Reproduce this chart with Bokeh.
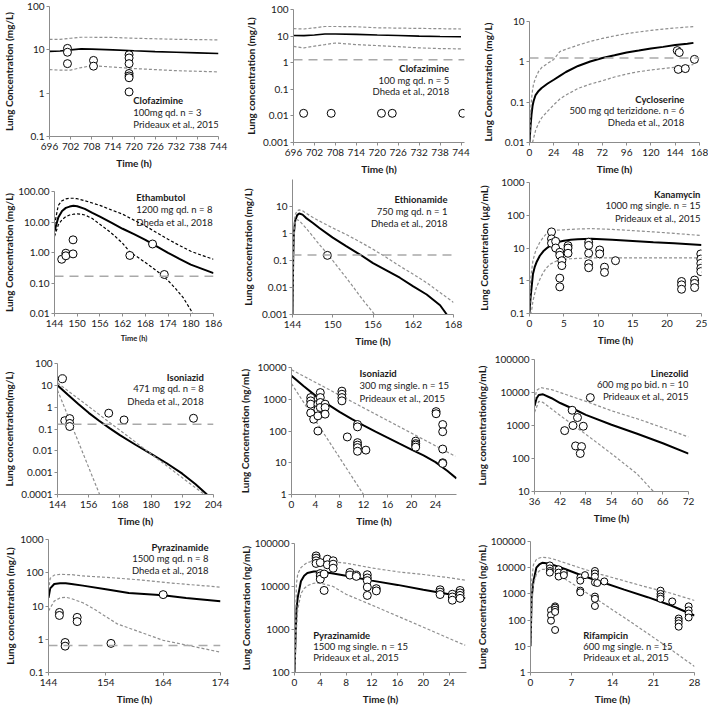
from bokeh.plotting import figure
from bokeh.layouts import row, column
from bokeh.models import FixedTicker, Label, Span, Range1d
from bokeh.embed import file_html
from bokeh.resources import INLINE

FONT = "Lato"

# ---------------- data ----------------
# Panel 1: Clofazimine, Prideaux 2015
clo_p_t = [696, 699, 702, 705, 708, 714, 720, 726, 732, 738, 744]
clo_p_med = [9.2, 9.4, 10.0, 10.5, 10.4, 10.0, 9.5, 9.1, 8.8, 8.5, 8.2]
clo_p_hi = [17.5, 17.5, 18.5, 19.5, 19.5, 19.3, 18.5, 18.0, 17.5, 17.2, 17.0]
clo_p_lo = [3.5, 3.4, 3.4, 3.9, 4.3, 4.0, 3.7, 3.5, 3.3, 3.2, 3.1]
clo_p_obs_t = [701.1, 701.1, 701.1, 708.5, 708.5, 718.6, 718.6, 718.6, 718.6, 718.6, 718.6, 718.6]
clo_p_obs_c = [10.8, 8.8, 4.8, 5.7, 4.2, 7.7, 6.5, 4.8, 2.85, 2.5, 2.27, 1.07]

# Panel 2: Clofazimine, Dheda 2018
clo_d_t = [696, 699, 702, 705, 708, 714, 720, 726, 732, 738, 744]
clo_d_med = [10.5, 10.4, 11.0, 12.0, 12.0, 11.6, 11.0, 10.5, 10.0, 9.7, 9.5]
clo_d_hi = [19.0, 18.5, 20.5, 23.0, 23.0, 22.5, 20.5, 20.0, 19.5, 19.0, 18.5]
clo_d_lo = [4.1, 3.6, 4.2, 4.8, 5.5, 4.8, 4.4, 4.0, 3.6, 3.4, 3.3]
clo_d_obs_t = [698.9, 706.8, 721.2, 724.3, 744.5]
clo_d_obs_c = [0.0125, 0.0125, 0.0125, 0.0125, 0.0125]
clo_d_lloq = 1.3

# Panel 3: Cycloserine, Dheda 2018
cyc_t = [0, 1, 2, 3, 4, 6, 9, 12, 18, 24, 30, 36, 48, 60, 72, 84, 96, 108, 120, 132, 144, 156, 162]
cyc_med = [0.01, 0.025, 0.05, 0.08, 0.105, 0.15, 0.19, 0.225, 0.29, 0.36, 0.45, 0.56, 0.79, 1.02, 1.25,
           1.45, 1.7, 1.9, 2.15, 2.35, 2.6, 2.8, 2.95]
cyc_hi = [0.01, 0.05, 0.12, 0.2, 0.28, 0.4, 0.58, 0.72, 0.92, 1.15, 1.8, 2.05, 2.6, 3.2, 3.8,
          4.4, 5.0, 5.5, 6.0, 6.5, 6.9, 7.3, 7.5]
cyc_lo_t = [3, 6, 9, 12, 18, 24, 30, 36, 48, 60, 72, 84, 96, 108, 120, 132, 144, 156, 162]
cyc_lo = [0.01, 0.02, 0.03, 0.041, 0.06, 0.086, 0.12, 0.15, 0.22, 0.28, 0.34, 0.42, 0.5, 0.57, 0.63,
          0.68, 0.73, 0.8, 0.86]
cyc_obs_t = [146, 148, 147, 154, 163]
cyc_obs_c = [1.9, 1.7, 0.65, 0.68, 1.15]
cyc_lloq = 1.25

# Panel 4: Ethambutol, Dheda 2018
etb_t = [144, 145, 146, 147, 148, 149, 150, 152, 154, 156, 159, 162, 165, 168, 171, 174, 177, 180, 183, 186]
etb_med = [5, 14, 23, 29, 32, 34, 33, 27, 20, 15, 9.5, 6.0, 4.0, 2.6, 1.6, 0.98, 0.62, 0.4, 0.29, 0.21]
etb_hi = [8, 35, 50, 57, 60, 60, 58, 50, 42, 35, 25, 18, 11.5, 7.4, 4.5, 2.7, 1.7, 1.1, 0.8, 0.6]
etb_lo_t = [144, 145, 146, 147, 148, 149, 150, 151, 152, 154, 156, 158, 160, 162, 164, 166, 168, 170,
            172, 174, 176, 178, 180, 180.5]
etb_lo = [3.4, 8, 12, 15, 17, 18, 18.5, 18, 17, 13, 8.4, 5.5, 3.4, 2.0, 1.0, 0.7, 0.47, 0.31, 0.2, 0.12,
          0.065, 0.033, 0.013, 0.01]
etb_obs_t = [145.9, 147, 147, 148.9, 148.9, 163.9, 169.9, 173]
etb_obs_c = [0.6, 0.95, 0.78, 2.6, 0.9, 0.8, 1.9, 0.19]
etb_lloq = 0.165

# Panel 5: Ethionamide, Dheda 2018
eth_t = [144, 144.1, 144.2, 144.4, 144.7, 145, 145.5, 146, 147, 148, 150, 152, 154, 156, 158, 160, 162, 164, 166, 167]
eth_med = [0.001, 0.1, 1.0, 3.0, 4.8, 5.5, 5.0, 3.8, 2.5, 1.6, 0.7, 0.34, 0.17, 0.08, 0.043, 0.023, 0.011,
           0.0055, 0.0022, 0.001]
eth_hi_t = [144, 144.1, 144.2, 144.4, 144.7, 145, 145.5, 146, 147, 148, 150, 152, 154, 156, 158, 160, 162, 164, 166, 168]
eth_hi = [0.001, 0.3, 2.0, 5.0, 7.0, 7.5, 7.0, 5.7, 4.0, 2.9, 1.6, 0.92, 0.5, 0.26, 0.13, 0.062, 0.031,
          0.015, 0.0065, 0.0028]
eth_lo_t = [144, 144.1, 144.2, 144.4, 144.6, 145, 146, 147, 148, 149, 150, 151, 152, 153, 154, 155, 156, 156.2]
eth_lo = [0.001, 0.05, 0.5, 2.5, 3.3, 3.0, 1.6, 0.8, 0.39, 0.2, 0.1, 0.048, 0.023, 0.011, 0.005, 0.0024,
          0.0012, 0.001]
eth_obs_t = [149.2]
eth_obs_c = [0.155]
eth_lloq = 0.16

# Panel 6: Kanamycin, Prideaux 2015
kan_t = [0, 0.15, 0.3, 0.5, 0.75, 1, 1.5, 2, 2.5, 3, 4, 5, 6, 7, 9, 12, 15, 18, 21, 25]
kan_med = [0.1, 0.3, 0.62, 1.6, 2.6, 3.6, 5.8, 7.9, 9.8, 11.8, 15, 16.7, 17.8, 18.5, 19, 18, 16.5, 15, 14, 12.4]
kan_hi = [0.1, 1.0, 2.0, 4.1, 6.5, 9.3, 15, 21, 28, 33, 35, 36, 37, 38, 39, 37, 34, 31, 28, 24]
kan_lo = [0.1, 0.1, 0.12, 0.24, 0.4, 0.62, 1.1, 1.8, 2.5, 3.2, 4.1, 4.5, 4.7, 4.8, 5.0, 5.0, 5.0, 5.0, 5.0, 5.0]
kan_obs_t = [3.2, 3.2, 3.2, 3.8, 3.8, 4.4, 4.4, 4.4, 4.4, 4.7, 4.7, 5.6, 5.6, 5.6,
             8.6, 8.6, 8.6, 8.6, 8.6, 10.2, 10.2, 10.9, 10.9, 12.5,
             22.1, 22.1, 22.1, 24.0, 24.0, 24.0, 24.9, 24.9, 24.9, 24.9, 24.9]
kan_obs_c = [31, 19, 14, 16, 10, 7.4, 6.0, 1.2, 0.65, 4.1, 2.9, 11.8, 10, 6.9,
             15, 12, 6.9, 3.3, 2.5, 8.7, 6.6, 2.6, 1.8, 4.1,
             0.95, 0.75, 0.55, 1.05, 0.83, 0.62, 6.6, 4.6, 3.4, 2.4, 1.9]

# Panel 7: Isoniazid, Dheda 2018
inh_d_t = [144, 148, 152, 156, 160, 164, 168, 174, 180, 186, 192, 197, 201.5]
inh_d_med = [10, 3.7, 1.4, 0.55, 0.24, 0.11, 0.052, 0.019, 0.0072, 0.0027, 0.0009, 0.0003, 0.0001]
inh_d_hi_t = [144, 200.5]
inh_d_hi = [13, 0.0001]
inh_d_lo_t = [144, 160.2]
inh_d_lo = [6, 0.0001]
inh_d_obs_t = [145.9, 146.8, 148.7, 148.7, 148.7, 163.7, 169.6, 196.3]
inh_d_obs_c = [20, 0.24, 0.3, 0.18, 0.13, 0.53, 0.26, 0.31]
inh_d_lloq = 0.165

# Panel 8: Isoniazid, Prideaux 2015
inh_p_t = [0, 2, 4, 6, 8, 10, 12, 14, 16, 18, 20, 22, 24, 26, 27.5]
inh_p_med = [5500, 2600, 1300, 700, 400, 240, 150, 95, 62, 40, 26, 17, 10.5, 5.5, 3.2]
inh_p_hi_t = [0, 27.3]
inh_p_hi = [8500, 16]
inh_p_lo_t = [0, 12]
inh_p_lo = [3100, 1]
inh_p_obs_t = [3.2, 3.2, 3.2, 3.2, 3.7, 4.4, 4.4, 4.4, 4.4, 4.8, 4.8, 4.8, 4.8, 5.6, 5.6, 5.6,
               8.4, 8.4, 8.4, 8.4, 9.3, 11, 11, 11, 11, 11, 11, 12.4,
               20.7, 20.7, 20.7, 20.7, 24.1, 24.1, 25.2, 25.2, 25.2, 25.2, 25.2]
inh_p_obs_c = [1130, 890, 700, 370, 235, 700, 480, 300, 100, 1620, 1130, 790, 550, 700, 550, 340,
               1800, 1440, 1130, 890, 65, 160, 135, 43, 36, 30, 23, 25,
               48, 40, 36, 31, 408, 350, 160, 95, 27, 10, 9.5]

# Panel 9: Linezolid, Prideaux 2015
lzd_t = [36, 36.5, 37, 38, 40, 42, 46, 48, 54, 60, 66, 72]
lzd_med = [3900, 6700, 8400, 8800, 6700, 4800, 2800, 2100, 1050, 560, 290, 140]
lzd_hi_t = [36, 36.5, 37.5, 40, 48, 54, 60, 66, 72]
lzd_hi = [6000, 11700, 14000, 12200, 5400, 2800, 1600, 860, 450]
lzd_lo_t = [36, 36.3, 37, 38, 42, 48, 54, 60, 63.8]
lzd_lo = [2500, 3100, 5400, 5000, 2000, 540, 140, 34, 10]
lzd_obs_t = [43.05, 44.8, 45.0, 46.05, 45.6, 47.0, 46.7, 47.4, 49.05]
lzd_obs_c = [700, 2900, 1000, 1740, 240, 230, 142, 950, 7000]

# Panel 10: Pyrazinamide, Dheda 2018
pza_d_t = [144, 144.3, 145, 146, 147, 148, 150, 154, 158, 164, 168, 174]
pza_d_med = [17.5, 34, 46, 48, 48, 46, 41, 32, 24.5, 21, 17.5, 14]
pza_d_hi_t = [144, 144.3, 145, 146, 148, 150, 154, 160, 166, 174]
pza_d_hi = [30, 68, 85, 89, 88, 80, 73, 61, 48, 37]
pza_d_lo_t = [144, 145, 146, 147, 148, 150, 152, 154, 156, 160, 164, 168, 174]
pza_d_lo = [7.1, 14, 17.5, 18.4, 16.7, 12.5, 8, 4.8, 2.9, 1.64, 0.93, 0.67, 0.41]
pza_d_obs_t = [145.9, 145.9, 146.9, 146.9, 149, 149, 154.9, 164]
pza_d_obs_c = [6.4, 5.2, 0.8, 0.62, 4.55, 3.4, 0.75, 22]
pza_d_lloq = 0.65

# Panel 11: Pyrazinamide, Prideaux 2015
pza_p_t = [0, 0.3, 0.5, 1, 1.5, 2, 3, 4, 6, 8, 12, 16, 20, 24, 26.5]
pza_p_med = [100, 2900, 5500, 13200, 17800, 20500, 22300, 22300, 20100, 17800, 13700, 10900, 8400, 6600, 5300]
pza_p_hi = [100, 11500, 19500, 27500, 32000, 36000, 39500, 39500, 37500, 35000, 27000, 22000, 19000, 16000, 14000]
pza_p_lo = [100, 1000, 2900, 6800, 9000, 10500, 11900, 12000, 10000, 6600, 3700, 2050, 1130, 620, 430]
pza_p_obs_t = [3.35, 3.35, 3.35, 3.35, 4.0, 4.0, 4.0, 4.0, 4.6, 4.6, 5.1, 5.1, 6.0, 6.0, 6.0,
               8.6, 8.6, 9.6, 9.6, 11.3, 11.3, 11.3, 11.3, 11.3, 12.7, 12.7,
               22.6, 22.6, 22.6, 24.5, 24.5, 24.5, 25.7, 25.7, 25.7, 25.7]
pza_p_obs_c = [51500, 45600, 39600, 34400, 36000, 20000, 17600, 14800, 19500, 8100, 43200, 32000, 39600, 33000, 26600,
               21200, 18400, 18400, 17200, 18800, 15800, 13700, 9700, 6200, 8900, 7900,
               8400, 7400, 6500, 6600, 5700, 4800, 8100, 7100, 6200, 5300]

# Panel 12: Rifampicin, Prideaux 2015
rif_t = [0, 0.2, 0.5, 1, 1.5, 2, 3, 4, 6, 9, 12, 16, 20, 24, 28]
rif_med = [10, 750, 3000, 10000, 13300, 15400, 14600, 12500, 8700, 4800, 2900, 1450, 750, 360, 150]
rif_hi = [10, 3000, 13000, 20600, 23500, 25000, 24000, 21000, 15000, 9000, 5600, 3150, 1770, 1060, 560]
rif_lo = [10, 300, 2360, 5600, 7500, 8700, 8700, 7000, 3600, 1330, 490, 125, 31, 7.5, 1.7]
rif_obs_t = [3.3, 3.3, 3.3, 3.3, 3.5, 3.5, 3.5, 4.2, 4.2, 4.2, 4.2, 4.2, 4.8, 4.8, 4.8, 5.7, 5.7,
             8.5, 8.5, 8.5, 8.5, 9.3, 11, 11, 11, 11, 11, 11, 11, 11.4, 12.6,
             22.2, 22.2, 22.2, 22.2, 24.2, 25.3, 25.3, 25.3, 25.3, 27, 27, 27, 27]
rif_obs_c = [12200, 9400, 7500, 6500, 237, 154, 95, 335, 300, 250, 205, 42, 8700, 6500, 4600, 6500, 5200,
             4200, 3200, 1330, 1150, 5200, 7500, 5950, 4600, 2750, 790, 650, 345, 2600, 2990,
             1330, 1000, 795, 650, 515, 115, 94, 75, 56, 335, 237, 178, 126]

# ---------------- styling helpers ----------------
AXIS_COLOR = "#8c8c8c"
PCT_COLOR = "#8f8f8f"
LLOQ_COLOR = "#a9a9a9"
TEXT_COLOR = "#1a1a1a"


def make_panel(w, h, borders, xr, yr, xticks, yticks, ylabels, ylab, ylab_standoff, xlab_size="10px"):
    p = figure(width=w, height=h, x_range=Range1d(*xr), y_range=Range1d(*yr), y_axis_type="log",
               output_backend="svg", toolbar_location=None, title=None,
               min_border_left=borders[0], min_border_top=borders[1],
               min_border_right=borders[2], min_border_bottom=borders[3])
    if "frame_align" in p.properties():
        p.frame_align = False
    p.outline_line_color = None
    p.xgrid.visible = False
    p.ygrid.visible = False
    p.background_fill_color = "white"
    p.border_fill_color = "white"
    p.xaxis.ticker = FixedTicker(ticks=xticks)
    p.yaxis.ticker = FixedTicker(ticks=yticks)
    p.yaxis.major_label_overrides = {t: l for t, l in zip(yticks, ylabels)}
    for ax in (p.xaxis[0], p.yaxis[0]):
        ax.axis_line_color = AXIS_COLOR
        ax.major_tick_line_color = AXIS_COLOR
        ax.minor_tick_line_color = None
        ax.major_tick_out = 3
        ax.major_tick_in = 0
        ax.major_label_standoff = 2
        ax.major_label_text_font = FONT
        ax.major_label_text_font_size = "10px"
        ax.major_label_text_color = TEXT_COLOR
        ax.axis_label_text_font = FONT
        ax.axis_label_text_font_style = "bold"
        ax.axis_label_text_color = TEXT_COLOR
    p.xaxis.major_label_standoff = 3
    p.xaxis.axis_label_standoff = 4
    p.yaxis.axis_label_standoff = ylab_standoff
    p.yaxis.axis_label = ylab
    p.yaxis.axis_label_text_font_size = "10px"
    p.xaxis.axis_label = "Time (h)"
    p.xaxis.axis_label_text_font_size = xlab_size
    return p


def med(p, t, c, width=2.0):
    p.line(t, c, line_color="black", line_width=width)


def pct(p, t, c, color=PCT_COLOR):
    p.line(t, c, line_color=color, line_width=1.2, line_dash="3 2")


def obs(p, t, c, size=8):
    p.scatter(t, c, marker="circle", size=size, fill_color="white", line_color="black", line_width=1)


def lloq(p, v):
    p.add_layout(Span(location=v, dimension="width", line_color=LLOQ_COLOR, line_width=1.5, line_dash="9 6"))


def note(p, x, ys, lines, align):
    for i, (y, txt) in enumerate(zip(ys, lines)):
        p.add_layout(Label(x=x, y=y, text=txt, text_align=align, text_baseline="middle",
                           text_font=FONT, text_font_size="9.5px", text_color=TEXT_COLOR,
                           text_font_style="bold" if i == 0 else "normal"))


CW = [236, 236, 236]
RH = [177, 177, 177, 176]
t696 = list(range(696, 745, 6))

# Panel 1
p1 = make_panel(CW[0], RH[0], (47, 6, 18, 41), (696, 744), (0.1, 100), t696, [0.1, 1, 10, 100],
                ["0.1", "1", "10", "100"], "Lung Concentration (mg/L)", 9)
med(p1, clo_p_t, clo_p_med, 1.6)
pct(p1, clo_p_t, clo_p_hi)
pct(p1, clo_p_t, clo_p_lo)
obs(p1, clo_p_obs_t, clo_p_obs_c)
note(p1, 719.8, [0.69, 0.35, 0.19], ["Clofazimine", "100mg qd. n = 3", "Prideaux et al., 2015"], "left")

# Panel 2
p2 = make_panel(CW[1], RH[0], (57, 9, 8, 31), (696, 745), (0.001, 100), t696,
                [0.001, 0.01, 0.1, 1, 10, 100], ["0.001", "0.01", "0.1", "1", "10", "100"],
                "Lung concentration (mg/L)", 3)
lloq(p2, clo_d_lloq)
med(p2, clo_d_t, clo_d_med, 1.6)
pct(p2, clo_d_t, clo_d_hi)
pct(p2, clo_d_t, clo_d_lo)
obs(p2, clo_d_obs_t, clo_d_obs_c)
note(p2, 740.6, [0.59, 0.217, 0.086], ["Clofazimine", "100 mg qd. n = 5", "Dheda et al., 2018"], "right")

# Panel 3
p3 = make_panel(CW[2], RH[0], (57, 21, 9, 31), (0, 168), (0.01, 10), list(range(0, 169, 24)),
                [0.01, 0.1, 1, 10], ["0.01", "0.1", "1", "10"], "Lung Concentration (mg/L)", 8)
lloq(p3, cyc_lloq)
med(p3, cyc_t, cyc_med)
pct(p3, cyc_t, cyc_hi)
pct(p3, cyc_lo_t, cyc_lo)
obs(p3, cyc_obs_t, cyc_obs_c)
note(p3, 153.0, [0.114, 0.062, 0.032], ["Cycloserine", "500 mg qd terizidone. n = 6", "Dheda et al., 2018"], "right")

# Panel 4
p4 = make_panel(CW[0], RH[1], (48, 14, 23, 41), (144, 186), (0.01, 100), list(range(144, 187, 6)),
                [0.01, 0.1, 1, 10, 100], ["0.01", "0.10", "1.00", "10.00", "100.00"],
                "Lung Concentration (mg/L)", 0, xlab_size="7.5px")
lloq(p4, etb_lloq)
med(p4, etb_t, etb_med)
pct(p4, etb_t, etb_hi, color="black")
pct(p4, etb_lo_t, etb_lo, color="black")
obs(p4, etb_obs_t, etb_obs_c)
note(p4, 165.6, [66, 25.5, 9.8], ["Ethambutol", "1200 mg qd. n = 8", "Dheda et al., 2018"], "left")

# Panel 5
p5 = make_panel(CW[1], RH[1], (56, 2, 19, 40), (144, 168), (0.001, 100), list(range(144, 169, 6)),
                [0.001, 0.01, 0.1, 1, 10], ["0.001", "0.01", "0.1", "1", "10"],
                "Lung concentration (mg/L)", 5)
lloq(p5, eth_lloq)
med(p5, eth_t, eth_med)
pct(p5, eth_hi_t, eth_hi)
pct(p5, eth_lo_t, eth_lo)
obs(p5, eth_obs_t, eth_obs_c)
note(p5, 167.1, [18, 6.5, 2.35], ["Ethionamide", "750 mg qd. n = 1", "Dheda et al., 2018"], "right")

# Panel 6
p6 = make_panel(CW[2], RH[1], (57, 5, 7, 41), (0, 25), (0.1, 1000), list(range(0, 26, 5)),
                [0.1, 1, 10, 100, 1000], ["0.1", "1", "10", "100", "1000"], "Lung Concentration (µg/mL)", 8)
med(p6, kan_t, kan_med)
pct(p6, kan_t, kan_hi)
pct(p6, kan_t, kan_lo)
obs(p6, kan_obs_t, kan_obs_c)
note(p6, 24.85, [430, 198, 79], ["Kanamycin", "1000 mg single. n = 15", "Prideaux et al., 2015"], "right")

# Panel 7
p7 = make_panel(CW[0], RH[2], (51, 9, 23, 37), (144, 204), (0.0001, 100), list(range(144, 205, 12)),
                [0.0001, 0.001, 0.01, 0.1, 1, 10, 100],
                ["0.0001", "0.001", "0.01", "0.1", "1", "10", "100"], "Lung concentration(mg/L)", 3)
lloq(p7, inh_d_lloq)
med(p7, inh_d_t, inh_d_med)
pct(p7, inh_d_hi_t, inh_d_hi)
pct(p7, inh_d_lo_t, inh_d_lo)
obs(p7, inh_d_obs_t, inh_d_obs_c)
note(p7, 200.3, [22.8, 7.1, 1.8], ["Isoniazid", "471 mg qd. n = 8", "Dheda et al., 2018"], "right")

# Panel 8
p8 = make_panel(CW[1], RH[2], (53, 13, 16, 37), (0, 27.5), (1, 10000), list(range(0, 25, 4)),
                [1, 10, 100, 1000, 10000], ["1", "10", "100", "1000", "10000"], "Lung Concentration (ng/mL)", 3)
med(p8, inh_p_t, inh_p_med)
pct(p8, inh_p_hi_t, inh_p_hi)
pct(p8, inh_p_lo_t, inh_p_lo)
obs(p8, inh_p_obs_t, inh_p_obs_c)
note(p8, 11.35, [6470, 2620, 1060], ["Isoniazid", "300 mg single. n = 15", "Prideaux et al., 2015"], "left")

# Panel 9
p9 = make_panel(CW[2], RH[2], (56, 5, 20, 40), (36, 72), (10, 100000), list(range(36, 73, 6)),
                [10, 100, 1000, 10000, 100000], ["10", "100", "1000", "10000", "100000"],
                "Lung concentration(ng/mL)", 4)
med(p9, lzd_t, lzd_med)
pct(p9, lzd_hi_t, lzd_hi)
pct(p9, lzd_lo_t, lzd_lo)
obs(p9, lzd_obs_t, lzd_obs_c)
note(p9, 72.0, [37600, 17000, 7670], ["Linezolid", "600 mg po bid. n = 10", "Prideaux et al., 2015"], "right")

# Panel 10
p10 = make_panel(CW[0], RH[3], (48, 8, 16, 31), (144, 174), (0.1, 1000), [144, 154, 164, 174],
                 [0.1, 1, 10, 100, 1000], ["0.1", "1", "10", "100", "1000"], "Lung concentration (mg/L)", 1)
lloq(p10, pza_d_lloq)
med(p10, pza_d_t, pza_d_med)
pct(p10, pza_d_hi_t, pza_d_hi)
pct(p10, pza_d_lo_t, pza_d_lo)
obs(p10, pza_d_obs_t, pza_d_obs_c)
note(p10, 171.9, [584, 261, 116], ["Pyrazinamide", "1500 mg qd. n = 8", "Dheda et al., 2018"], "right")

# Panel 11
p11 = make_panel(CW[1], RH[3], (54, 12, 6, 32), (0, 26.7), (100, 100000), list(range(0, 25, 4)),
                 [100, 1000, 10000, 100000], ["100", "1000", "10000", "100000"],
                 "Lung Concentration (ng/mL)", 0)
med(p11, pza_p_t, pza_p_med)
pct(p11, pza_p_t, pza_p_hi)
pct(p11, pza_p_t, pza_p_lo)
obs(p11, pza_p_obs_t, pza_p_obs_c)
note(p11, 2.9, [731, 411, 219], ["Pyrazinamide", "1500 mg single. n = 15", "Prideaux et al., 2015"], "left")

# Panel 12
p12 = make_panel(CW[2], RH[3], (57, 10, 14, 32), (0, 28), (1, 100000), list(range(0, 29, 7)),
                 [1, 10, 100, 1000, 10000, 100000], ["1", "10", "100", "1000", "10000", "100000"],
                 "Lung Concentration (ng/mL)", 0)
med(p12, rif_t, rif_med)
pct(p12, rif_t, rif_hi)
pct(p12, rif_t, rif_lo)
obs(p12, rif_obs_t, rif_obs_c, size=7)
note(p12, 9.0, [26, 10.2, 3.6], ["Rifampicin", "600 mg single. n = 15", "Prideaux et al., 2015"], "left")

layout = column(row(p1, p2, p3), row(p4, p5, p6), row(p7, p8, p9), row(p10, p11, p12))

open("out.html", "w").write(file_html(layout, INLINE))
